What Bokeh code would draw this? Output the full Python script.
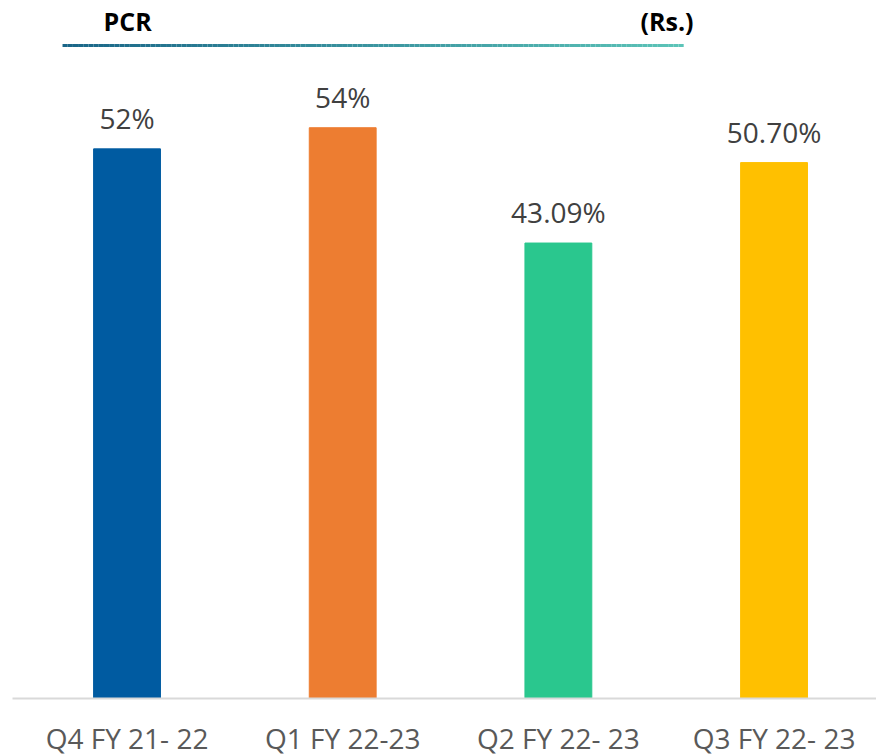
import numpy as np
from bokeh.plotting import figure
from bokeh.models import ColumnDataSource, Range1d, FixedTicker
from bokeh.core.properties import value
from bokeh.embed import file_html
from bokeh.resources import INLINE

categories = ["Q4 FY 21- 22", "Q1 FY 22-23", "Q2 FY 22- 23", "Q3 FY 22- 23"]
pcr_values = [52.0, 54.0, 43.09, 50.70]
value_labels = ["52%", "54%", "43.09%", "50.70%"]
bar_colors = ["#005BA1", "#ED7D31", "#2AC78E", "#FFC000"]
title_text = "PCR"
unit_text = "(Rs.)"

xs = list(range(len(categories)))
src = ColumnDataSource(dict(x=xs, top=pcr_values, lab=value_labels, color=bar_colors))

p = figure(frame_width=864, frame_height=690, output_backend="svg", toolbar_location=None,
           x_range=Range1d(-0.531, 3.475), y_range=Range1d(0, 65.28),
           min_border_left=12, min_border_right=0, min_border_top=8)
p.outline_line_color = None
p.background_fill_color = "white"
p.border_fill_color = "white"
p.xgrid.visible = False
p.ygrid.visible = False
p.yaxis.visible = False

p.vbar(x="x", top="top", bottom=0, width=0.31, color="color", source=src)
p.text(x="x", y="top", text="lab", source=src, text_align="center", text_baseline="alphabetic",
       y_offset=-31, text_font=value("Open Sans"), text_font_size="28px", text_color="#404040")

ax = p.xaxis[0]
ax.ticker = FixedTicker(ticks=xs)
ax.major_label_overrides = {i: c for i, c in enumerate(categories)}
ax.major_label_text_font = "Open Sans"
ax.major_label_text_font_size = "28px"
ax.major_label_text_color = "#595959"
ax.major_tick_line_color = None
ax.minor_tick_line_color = None
ax.major_tick_out = 0
ax.major_label_standoff = 20
ax.axis_line_color = "#D9D9D9"
ax.axis_line_width = 2

# header
p.text(x=[-0.109], y=[64.14], text=[title_text], text_align="left", text_baseline="middle",
       text_font=value("Open Sans"), text_font_style="bold", text_font_size="25px", text_color="black")
p.text(x=[2.381], y=[64.14], text=[unit_text], text_align="left", text_baseline="middle",
       text_font=value("Open Sans"), text_font_style="bold", text_font_size="25px", text_color="black")

# gradient rule under header
n = 120
edges = np.linspace(-0.299, 2.581, n + 1)
c0 = np.array([0x1A, 0x66, 0x88])
c1 = np.array([0x5C, 0xC4, 0xB8])
cols = []
for t in np.linspace(0, 1, n):
    c = (c0 + (c1 - c0) * t).astype(int)
    cols.append("#%02x%02x%02x" % tuple(c))
p.segment(x0=edges[:-1], x1=edges[1:], y0=[61.78] * n, y1=[61.78] * n, line_color=cols, line_width=3)

open("out.html", "w").write(file_html(p, INLINE))
